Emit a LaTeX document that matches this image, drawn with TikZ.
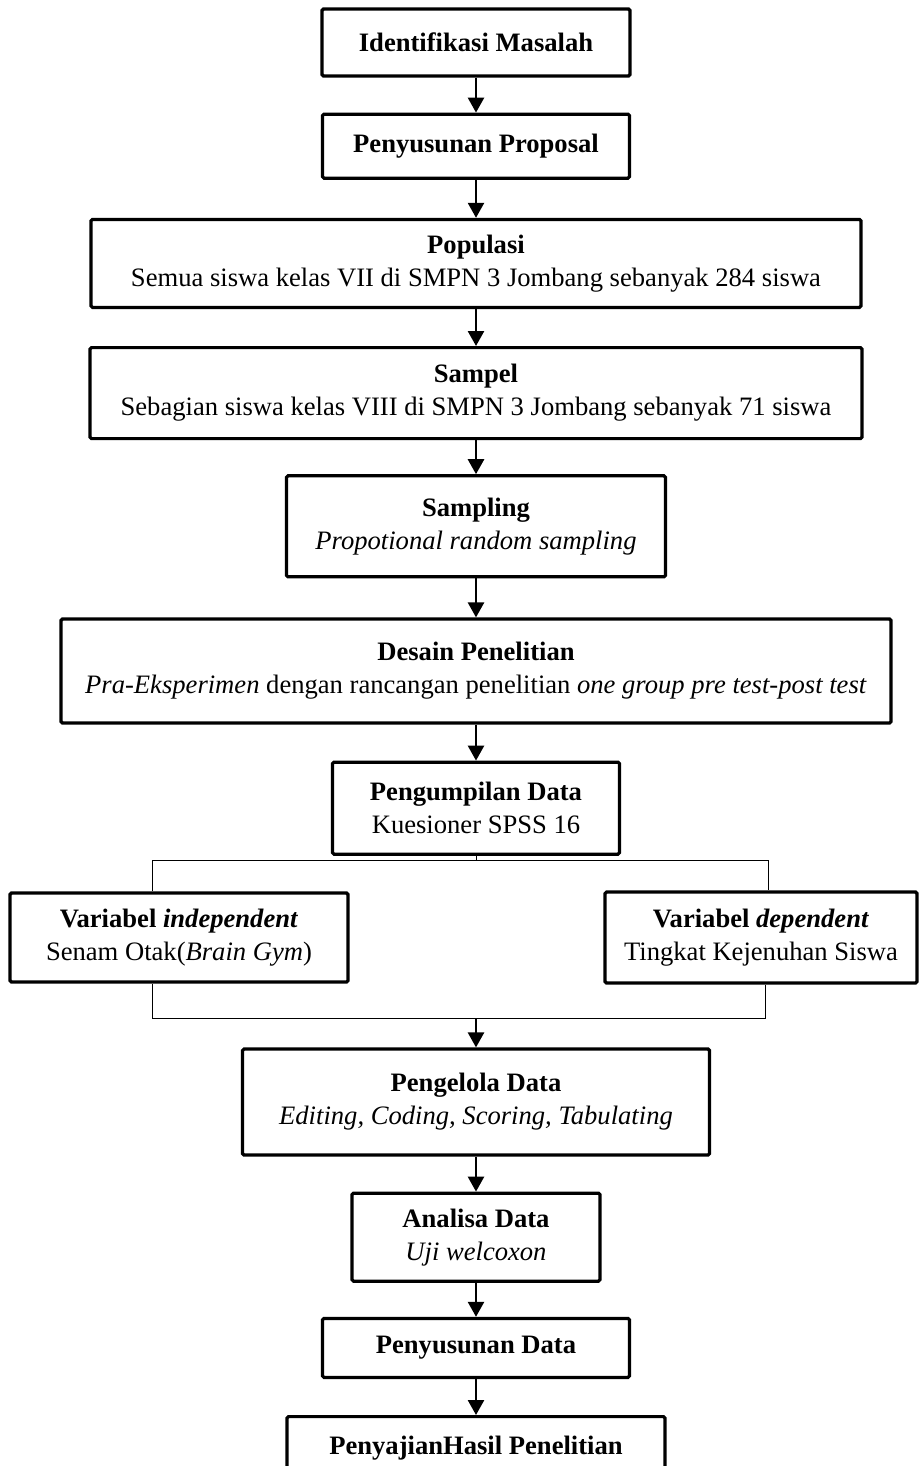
\documentclass[tikz,border=0pt]{standalone}
\usepackage{fontspec}
\setmainfont{Liberation Serif}
\usepackage{tikz}
\usetikzlibrary{arrows.meta,positioning,calc}
\tikzset{
  box/.style={draw,line width=3.2pt,rounded corners=1.5pt,align=center,inner sep=0pt,fill=white},
  arr/.style={-{Triangle[length=15pt,width=16pt]},line width=2.6pt},
  lne/.style={line width=1pt},
}

\begin{document}
\begin{tikzpicture}[every node/.style={font=\fontsize{26.6}{33}\selectfont}]
 \useasboundingbox (0,0) rectangle (919pt,-1466pt);
 \clip (0,0) rectangle (919pt,-1466pt);
 % alur utama
 \node[box,minimum width=308pt,minimum height=67pt] (ident) at (476pt,-42.5pt) {\textbf{Identifikasi Masalah}};
 \node[box,minimum width=307pt,minimum height=64pt,below=35pt of ident] (prop) {\textbf{Penyusunan Proposal}};
 \node[box,minimum width=770pt,minimum height=88pt,below=38pt of prop] (pop) {\textbf{Populasi}\\Semua siswa kelas VII di SMPN 3 Jombang sebanyak 284 siswa};
 \node[box,minimum width=772pt,minimum height=91pt,below=37pt of pop] (sampel) {\textbf{Sampel}\\Sebagian siswa kelas VIII di SMPN 3 Jombang sebanyak 71 siswa};
 \node[box,minimum width=379pt,minimum height=101pt,below=34pt of sampel] (sampling) {\textbf{Sampling}\\\textit{Propotional random sampling}};
 \node[box,minimum width=830pt,minimum height=104pt,below=39pt of sampling] (desain) {\textbf{Desain Penelitian}\\\textit{Pra-Eksperimen} dengan rancangan penelitian \textit{one group pre test-post test}};
 \node[box,minimum width=287pt,minimum height=92pt,below=36pt of desain] (kumpul) {\textbf{Pengumpilan Data}\\Kuesioner SPSS 16};
 % variabel
 \node[box,minimum width=338pt,minimum height=89pt] (indep) at (179pt,-937.5pt) {\textbf{Variabel \textit{independent}}\\Senam Otak(\textit{Brain Gym})};
 \node[box,minimum width=312pt,minimum height=91pt] (dep) at (761pt,-937.5pt) {\textbf{Variabel \textit{dependent}}\\Tingkat Kejenuhan Siswa};
 \node[box,minimum width=467pt,minimum height=106pt] (kelola) at (476pt,-1102pt) {\textbf{Pengelola Data}\\\textit{Editing, Coding, Scoring, Tabulating}};
 \node[box,minimum width=248pt,minimum height=88pt,below=35pt of kelola] (analisa) {\textbf{Analisa Data}\\\textit{Uji welcoxon}};
 \node[box,minimum width=307pt,minimum height=59pt,below=34pt of analisa] (susun) {\textbf{Penyusunan Data}};
 \node[box,minimum width=378pt,minimum height=64pt,below=36pt of susun] (saji) {\textbf{PenyajianHasil Penelitian}};
 % panah
 \foreach \a/\b in {ident/prop,prop/pop,pop/sampel,sampel/sampling,sampling/desain,desain/kumpul,kelola/analisa,analisa/susun,susun/saji}
  \draw[arr] (\a.south) -- (\a.south |- \b.north);
 % cabang
 \coordinate (brL) at (152pt,-860pt);
 \coordinate (brR) at (768pt,-860pt);
 \coordinate (bdL) at (152pt,-1018pt);
 \coordinate (bdR) at (765pt,-1018pt);
 \draw[lne] (kumpul.south) -- (kumpul.south |- brL);
 \draw[lne] (brL |- indep.north) -- (brL) -- (brR) -- (brR |- dep.north);
 \draw[lne] (bdL |- indep.south) -- (bdL) -- (bdR) -- (bdR |- dep.south);
 \draw[arr] (kelola.north |- bdL) -- (kelola.north);
\end{tikzpicture}
\end{document}
